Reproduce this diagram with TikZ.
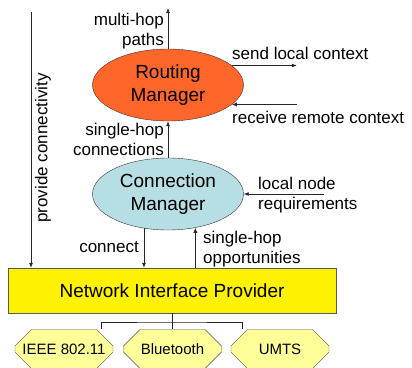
\documentclass[tikz,border=0pt]{standalone}
\usepackage{fontspec}
\setmainfont{Liberation Sans}
\usetikzlibrary{shapes.geometric,shapes.misc,arrows.meta}
\definecolor{routingorange}{RGB}{255,102,41}
\definecolor{connblue}{RGB}{183,222,226}
\definecolor{radioyellow}{RGB}{255,255,153}
\begin{document}
\begin{tikzpicture}[x=1pt, y=-1pt,
		manager/.style={ellipse, draw=black!80, inner sep=0pt, minimum width=151pt, minimum height=72pt, align=center, font=\fontsize{19}{23}\selectfont},
		lbl/.style={inner sep=0pt, font=\fontsize{17}{20}\selectfont},
		arr/.style={-{Latex[length=5pt,width=4pt]}, draw=black!85, line width=.7pt},
		radio/.style={chamfered rectangle, chamfered rectangle xsep=8pt, chamfered rectangle ysep=11pt, draw=black!70, fill=radioyellow, minimum width=98pt, minimum height=39pt, inner sep=0pt, font=\fontsize{15}{18}\selectfont}]
				\useasboundingbox (0,0) rectangle (412,367);
				% managers and provider
				\node[manager, fill=routingorange] (rm) at (168,85) {Routing\\Manager};
				\node[manager, fill=connblue] (cm) at (168,194) {Connection\\Manager};
				\node[draw=black!65, fill=yellow, minimum width=328pt, minimum height=45pt, inner sep=0pt, font=\fontsize{19}{23}\selectfont] (nip) at (172,290.5) {Network Interface Provider};
				% radio interfaces
				\node[radio] (ieee) at (64,349) {IEEE 802.11};
				\node[radio] (bt) at (172.5,349) {Bluetooth};
				\node[radio] (umts) at (280,349) {UMTS};
				\coordinate (fork) at (172,322);
				\draw[black!85, line width=.7pt] (nip.south -| fork) -- (bt.north -| fork);
				\draw[black!85, line width=.7pt] ([xshift=37pt]ieee.north) |- (fork) -| ([xshift=-38pt]umts.north);
				% arrows
				\coordinate (mhtop) at (168,8);
				\coordinate (pctop) at (31,12);
				\draw[arr] (rm.north) -- (mhtop);
				\draw[arr] (cm.north) -- (rm.south);
				\draw[arr] (rm.17) -- ++(65,0) coordinate (sendend);
				\draw[arr] (rm.-17 -| sendend) -- (rm.-17);
				\draw[arr] (cm.east) ++(80,0) coordinate (lnr) -- (cm.east);
				\draw[arr] (cm.235) -- (cm.235 |- nip.north);
				\draw[arr] (cm.309 |- nip.north) -- (cm.309);
				\draw[arr] (pctop) -- (pctop |- nip.north);
				% labels
				\node[lbl, align=right, anchor=east] (mhl) at (164,31) {multi-hop\\paths};
				\node[lbl, align=right, anchor=east] (shcl) at (164,139) {single-hop\\connections};
				\node[lbl, anchor=west] (sendl) at (232,53) {send local context};
				\node[lbl, anchor=west] (recvl) at (232,117) {receive remote context};
				\node[lbl, align=left, anchor=west] (lnrl) at (258,195) {local node\\requirements};
				\node[lbl, anchor=east] (conl) at (139,247) {connect};
				\node[lbl, align=left, anchor=west] (shol) at (203,249) {single-hop\\opportunities};
				\node[lbl, rotate=90] (pcl) at (43,148) {provide connectivity};
			\end{tikzpicture}
\end{document}
